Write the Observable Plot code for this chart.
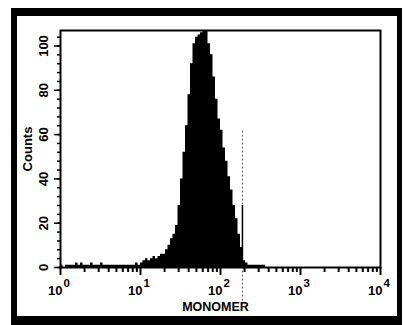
<!DOCTYPE html>
<html><head><meta charset="utf-8">
<script src="https://cdn.jsdelivr.net/npm/d3@7"></script>
<script src="https://cdn.jsdelivr.net/npm/@observablehq/plot@0.6"></script>
<style>
html,body{margin:0;padding:0;background:#fff;}
#wrap{position:relative;width:406px;height:325px;overflow:hidden;}
#chart{position:absolute;left:0;top:0;}
#border{position:absolute;left:11px;top:8px;width:391px;height:317px;box-sizing:border-box;border-left:6px solid #000;border-top:8px solid #000;border-right:5px solid #000;border-bottom:9px solid #000;pointer-events:none;}
</style></head><body><div id="wrap"><div id="chart"></div><div id="border"></div></div>
<script>
// Histogram counts, 32 channels per decade from 10^0 to 10^4
const binsPerDecade = 32;
const counts = [
  1,0,1,1,1,1,2,1,2,1,1,1,2,1,1,1,2,1,1,1,1,1,1,1,1,1,1,1,1,1,2,1,
  2,3,4,3,4,5,4,5,6,6,8,10,13,15,19,28,40,52,64,78,92,101,104,105,106,110,110,101,96,86,76,67,
  62,54,48,41,35,28,22,15,9,3,2,1,1,1,1,1,1,1,0,0,0,0,0,0,0,0,0,0,0,0,0,0,
  0,0,0,0,0,0,0,0,0,0,0,0,0,0,0,0,0,0,0,0,0,0,0,0,0,0,0,0,0,0,0,0
];
const gateX = 188;
const gateSpike = 28;
const xMajorTicks = [1, 10, 100, 1000, 10000];
const xExponents = ["0", "1", "2", "3", "4"];
const xMinorMultipliers = [2, 3, 4, 5, 6, 7, 8, 9];
const yMajorTicks = [0, 20, 40, 60, 80, 100];
const yMinorStep = 4;
const xLabel = "MONOMER";
const yLabel = "Counts";

const xMinorTicks = xMajorTicks.slice(0, -1).flatMap(d => xMinorMultipliers.map(m => d * m));
const yMinorTicks = d3.range(0, 107, yMinorStep);
// step outline: each channel's left edge, plus the closing right edge
const steps = counts.map((c, i) => ({x: 10 ** (i / binsPerDecade), count: c}));
steps.push({x: 10 ** (counts.length / binsPerDecade), count: counts[counts.length - 1]});
const majors = xMajorTicks.map((v, i) => ({v, e: xExponents[i]}));

const chart = Plot.plot({
  width: 406, height: 325,
  marginLeft: 60, marginRight: 26, marginTop: 30, marginBottom: 58,
  x: {type: "log", domain: [1, 10000], axis: null, label: null},
  y: {domain: [0, 107], axis: null, label: null},
  style: {fontFamily: "'Liberation Sans', Arial, sans-serif", fontWeight: "bold", background: "white", color: "black"},
  marks: [
    Plot.areaY(steps, {x: "x", y: "count", curve: "step-after", fill: "black", clip: true}),
    Plot.ruleX([gateX], {y1: -17, y2: 62, stroke: "#666", strokeDasharray: "2,2"}),
    Plot.ruleX([gateX], {y1: 0, y2: gateSpike, stroke: "#000", strokeWidth: 1.5}),
    Plot.frame({stroke: "black", strokeWidth: 2}),
    Plot.axisX({ticks: xMinorTicks, tickSize: 5, tickFormat: () => "", strokeWidth: 2, label: null}),
    Plot.axisX({ticks: xMajorTicks, tickSize: 8, tickFormat: () => "", strokeWidth: 2, label: null}),
    Plot.axisY({ticks: yMinorTicks, tickSize: 3, tickFormat: () => "", strokeWidth: 1.5, label: null}),
    Plot.axisY({ticks: yMajorTicks, tickSize: 6, tickFormat: () => "", strokeWidth: 1.5, label: null}),
    Plot.text(majors, {x: "v", frameAnchor: "bottom", text: () => "10", textAnchor: "end", lineAnchor: "bottom", dx: 2, dy: 27, fontSize: 13, fontWeight: "bold"}),
    Plot.text(majors, {x: "v", frameAnchor: "bottom", text: "e", textAnchor: "start", lineAnchor: "bottom", dx: 3, dy: 19, fontSize: 11.5, fontWeight: "bold"}),
    Plot.text(yMajorTicks, {y: d => d, frameAnchor: "left", text: d => String(d), rotate: -90, textAnchor: "middle", lineAnchor: "middle", dx: -17, fontSize: 13, fontWeight: "bold"}),
    Plot.text([yLabel], {frameAnchor: "left", text: d => d, rotate: -90, textAnchor: "middle", lineAnchor: "middle", dx: -33, fontSize: 13, fontWeight: "bold"}),
    Plot.text([xLabel], {frameAnchor: "bottom", text: d => d, textAnchor: "middle", lineAnchor: "bottom", dx: -5, dy: 43, fontSize: 12.5, fontWeight: "bold"})
  ]
});
document.getElementById("chart").appendChild(chart);
</script></body></html>
